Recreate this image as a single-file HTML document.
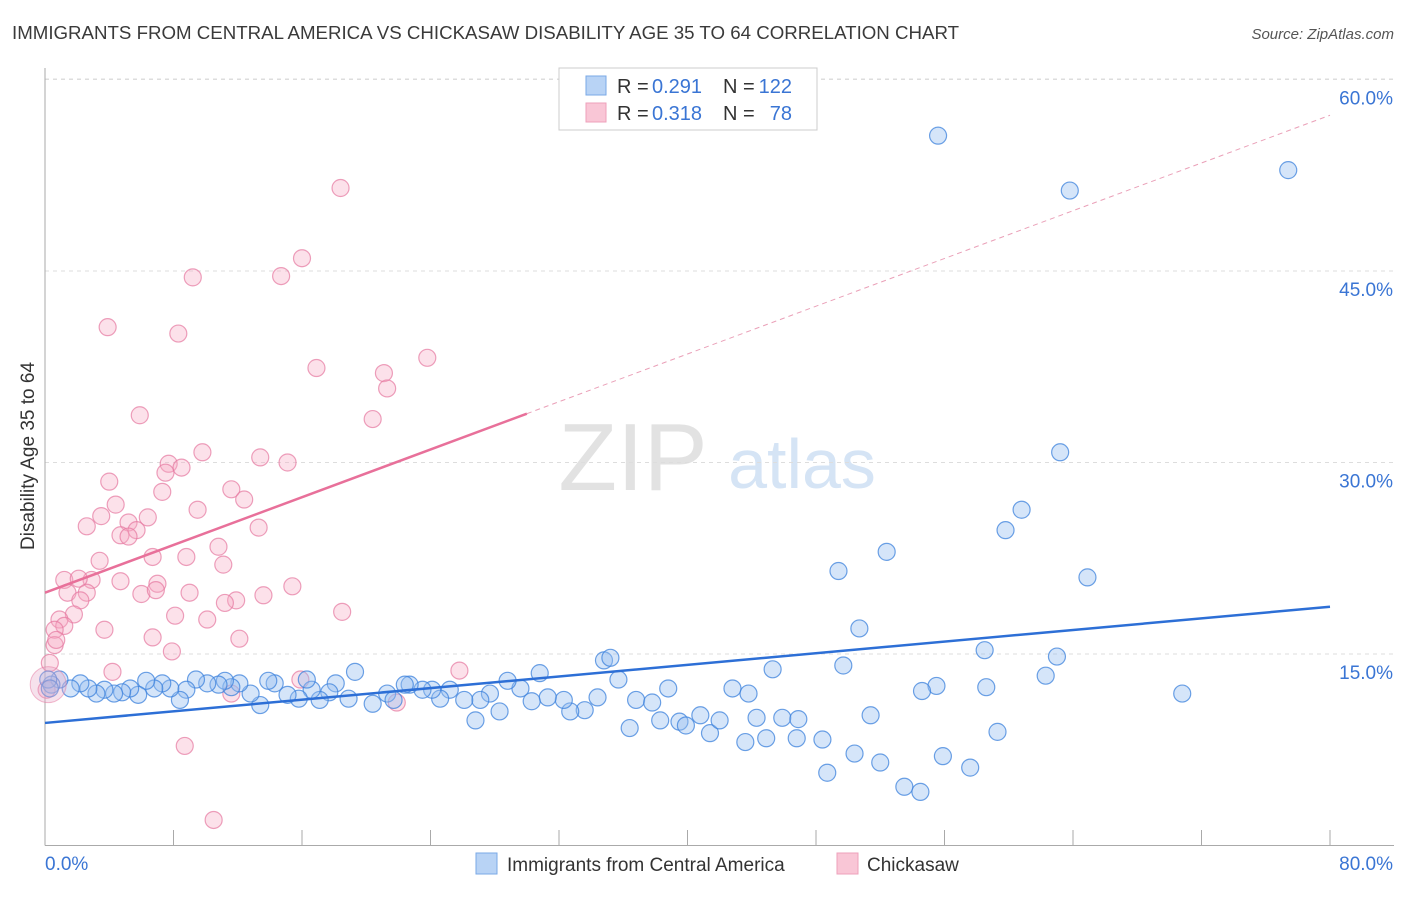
<!DOCTYPE html>
<html><head><meta charset="utf-8"><style>
body{margin:0;background:#fff;font-family:"Liberation Sans",sans-serif}
svg text{font-family:"Liberation Sans",sans-serif}
</style></head><body>
<svg id="chart" width="1406" height="892" xmlns="http://www.w3.org/2000/svg">
<text x="12" y="39" font-size="18.7" fill="#3a3a3a">IMMIGRANTS FROM CENTRAL AMERICA VS CHICKASAW DISABILITY AGE 35 TO 64 CORRELATION CHART</text>
<text x="1394" y="39" font-size="15" fill="#555" text-anchor="end" font-style="italic">Source: ZipAtlas.com</text>
<text transform="translate(34,456) rotate(-90)" font-size="19" fill="#333" text-anchor="middle">Disability Age 35 to 64</text>
<g>
<text x="633" y="490" font-size="96" fill="#e2e2e2" text-anchor="middle" font-family="Liberation Serif">ZIP</text>
<text x="802" y="488" font-size="70" fill="#d5e4f5" text-anchor="middle">atlas</text>
</g>
<g id="grid"></g><g id="axes"></g><g id="pts"></g><g id="trend"></g>
<g>
<rect x="559" y="68" width="258" height="62" fill="#fff" stroke="#ccc"/>
<rect x="586" y="76" width="20" height="19" fill="#b8d3f5" stroke="#7aa8e6"/>
<rect x="586" y="103" width="20" height="19" fill="#f9c6d6" stroke="#eea0bb"/>
<text x="617" y="93" font-size="20" fill="#333">R =</text>
<text x="652" y="93" font-size="20" fill="#3a75d4">0.291</text>
<text x="723" y="93" font-size="20" fill="#333">N =</text>
<text x="792" y="93" font-size="20" fill="#3a75d4" text-anchor="end">122</text>
<text x="617" y="120" font-size="20" fill="#333">R =</text>
<text x="652" y="120" font-size="20" fill="#3a75d4">0.318</text>
<text x="723" y="120" font-size="20" fill="#333">N =</text>
<text x="792" y="120" font-size="20" fill="#3a75d4" text-anchor="end">78</text>
</g>
<g>
<rect x="476" y="853" width="21" height="21" fill="#b8d3f5" stroke="#7aa8e6"/>
<text x="507" y="871" font-size="19" fill="#333">Immigrants from Central America</text>
<rect x="837" y="853" width="21" height="21" fill="#f9c6d6" stroke="#eea0bb"/>
<text x="867" y="871" font-size="19" fill="#333">Chickasaw</text>
</g>
</svg>
<script>
const xTicks=[0,80];
const yTicks=[15,30,45,60];
const blueX=[55.6,63.8,77.4,63.2,60.8,59.8,52.4,49.4,64.9,50.7,58.5,63.0,49.7,45.3,62.3,55.5,54.6,58.6,70.8,51.4,59.3,55.9,57.6,50.4,52.0,48.7,53.5,54.5,48.4,43.6,44.9,46.8,41.4,40.8,44.3,45.9,46.9,39.5,39.9,42.0,42.8,43.8,38.8,38.3,36.4,36.8,37.8,35.7,34.8,35.2,34.4,33.6,32.7,32.3,31.3,30.3,30.8,29.6,28.8,28.3,27.7,26.8,27.1,26.1,25.2,24.6,24.1,23.5,22.7,22.4,21.3,21.7,20.4,19.3,18.9,18.1,17.7,17.1,16.6,16.3,15.8,15.1,14.3,13.9,13.4,12.8,12.1,11.6,11.2,10.8,10.1,9.4,8.8,8.4,7.8,7.3,6.8,6.3,5.8,5.3,4.8,4.3,3.7,3.2,2.7,2.2,1.6,0.9,0.4,0.2,0.3];
const blueY=[55.6,51.3,52.9,30.8,26.3,24.7,23.0,21.5,21.0,17.0,15.3,14.8,14.1,13.8,13.3,12.5,12.1,12.4,11.9,10.2,8.9,7.0,6.1,7.2,6.5,5.7,4.6,4.2,8.3,8.1,8.4,8.4,8.8,10.2,10.0,10.0,9.9,9.7,9.4,9.8,12.3,11.9,12.3,9.8,9.2,11.4,11.2,13.0,14.5,14.7,11.6,10.6,10.5,11.4,11.6,11.3,13.5,12.3,12.9,10.5,11.9,9.8,11.4,11.4,12.2,11.5,12.2,12.2,12.6,12.6,11.9,11.4,11.1,13.6,11.5,12.7,12.0,11.4,12.2,13.0,11.5,11.8,12.7,12.9,11.0,11.9,12.7,12.4,12.9,12.6,12.7,13.0,12.2,11.4,12.3,12.7,12.3,12.9,11.8,12.3,12.0,11.9,12.2,11.9,12.3,12.7,12.3,13.0,12.6,13.0,12.3];
const pinkX=[18.4,16.0,14.7,9.2,3.9,8.3,23.8,16.9,21.1,21.3,20.4,5.9,9.8,13.4,15.1,7.7,8.5,7.5,4.0,7.3,11.6,12.4,9.5,3.5,6.4,4.4,2.6,5.2,5.7,4.7,5.2,13.3,10.8,6.7,3.4,8.8,1.2,2.9,2.1,4.7,7.0,15.4,11.1,1.4,2.6,6.0,6.9,9.0,11.9,11.2,13.6,2.2,1.8,18.5,10.1,8.1,0.9,1.2,0.6,3.7,6.7,12.1,0.6,7.9,4.2,25.8,15.9,11.6,21.9,8.7,10.5,0.3,0.1,0.7];
const pinkY=[51.5,46.0,44.6,44.5,40.6,40.1,38.2,37.4,37.0,35.8,33.4,33.7,30.8,30.4,30.0,29.9,29.6,29.2,28.5,27.7,27.9,27.1,26.3,25.8,25.7,26.7,25.0,25.3,24.7,24.3,24.2,24.9,23.4,22.6,22.3,22.6,20.8,20.8,20.9,20.7,20.5,20.3,22.0,19.8,19.8,19.7,20.0,19.8,19.2,19.0,19.6,19.2,18.1,18.3,17.7,18.0,17.7,17.2,16.9,16.9,16.3,16.2,15.7,15.2,13.6,13.7,13.0,11.9,11.2,7.8,2.0,14.3,12.2,16.1];
const blueTrend=[9.6,18.7];
const pinkTrend=[19.8,57.2];
const pinkSolidEnd=30.0;
const NS='http://www.w3.org/2000/svg';
const X=v=>45+v/80*1285;
const Y=v=>845.5-v*12.767;
function mk(tag,attrs,parent){const e=document.createElementNS(NS,tag);for(const k in attrs)e.setAttribute(k,attrs[k]);parent.appendChild(e);return e;}
const grid=document.getElementById('grid'),axes=document.getElementById('axes'),pts=document.getElementById('pts'),trend=document.getElementById('trend');
yTicks.forEach(t=>{
 const l=mk('line',{x1:45,x2:1394,y1:Y(t),y2:Y(t),stroke:'#ddd','stroke-dasharray':'4,4'},grid);
 
 
 const tx=mk('text',{x:1393,y:Y(t)+25,'font-size':19,fill:'#3a75d4','text-anchor':'end'},axes);
 tx.textContent=t.toFixed(1)+'%';
 
 
});
const topGrid=mk('line',{x1:45,x2:1394,y1:79,y2:79,stroke:'#ddd','stroke-dasharray':'4,4'},grid);


const ax=mk('line',{x1:45,x2:1394,y1:845.5,y2:845.5,stroke:'#aaa'},axes);


const ay=mk('line',{x1:45,x2:45,y1:68,y2:845.5,stroke:'#aaa'},axes);


for(let i=0;i<=10;i++){const tk=mk('line',{x1:X(i*8),x2:X(i*8),y1:830,y2:845.5,stroke:'#aaa'},axes);
 
 }
xTicks.forEach((t,i)=>{const tx=mk('text',{x:i?1393:45,y:870,'font-size':19,fill:'#3a75d4','text-anchor':i?'end':'start'},axes);
 tx.textContent=t.toFixed(1)+'%';
 
 });
pinkX.forEach((x,i)=>{const c=mk('circle',{cx:X(x),cy:Y(pinkY[i]),r:8.5,fill:'rgba(245,170,195,0.35)',stroke:'rgba(230,120,160,0.7)','stroke-width':1.2},pts);
 
 });
blueX.forEach((x,i)=>{const c=mk('circle',{cx:X(x),cy:Y(blueY[i]),r:8.5,fill:'rgba(150,190,240,0.4)',stroke:'rgba(60,130,220,0.75)','stroke-width':1.2},pts);
 
 });
const big=mk('circle',{cx:X(0.2),cy:Y(12.6),r:18,fill:'rgba(230,170,200,0.35)',stroke:'rgba(230,120,160,0.5)'},pts);


const bl=mk('line',{x1:X(0),y1:Y(blueTrend[0]),x2:X(80),y2:Y(blueTrend[1]),stroke:'#2d6fd6','stroke-width':2.5},trend);


const pe=pinkTrend[0]+(pinkTrend[1]-pinkTrend[0])*pinkSolidEnd/80;
const ps=mk('line',{x1:X(0),y1:Y(pinkTrend[0]),x2:X(pinkSolidEnd),y2:Y(pe),stroke:'#e8709a','stroke-width':2.5},trend);


const pd=mk('line',{x1:X(pinkSolidEnd),y1:Y(pe),x2:X(80),y2:Y(pinkTrend[1]),stroke:'#eaa0b8','stroke-width':1,'stroke-dasharray':'5,4'},trend);


</script>
</body></html>
